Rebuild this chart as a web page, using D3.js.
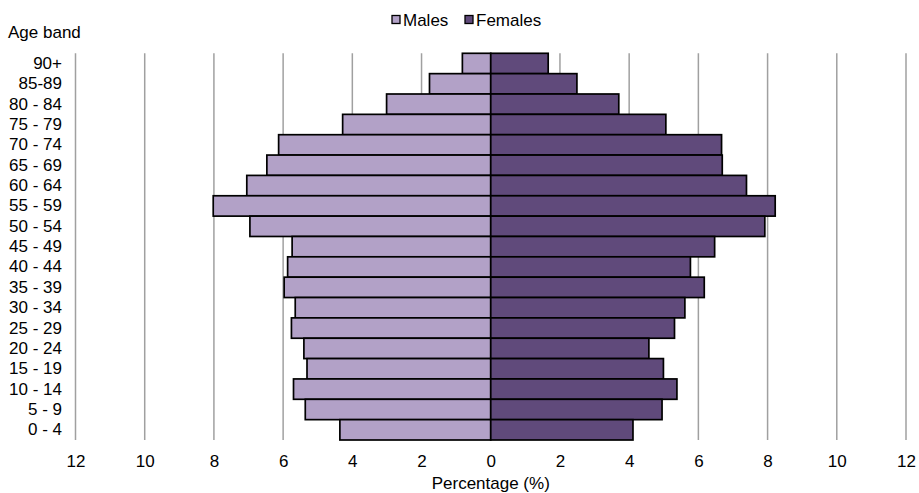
<!DOCTYPE html>
<html>
<head>
<meta charset="utf-8">
<script src="https://cdn.jsdelivr.net/npm/d3@7"></script>
<style>
  html, body { margin: 0; padding: 0; background: #fff; }
  svg { display: block; }
  text { font-family: "Liberation Sans", Arial, sans-serif; fill: #000; }
</style>
</head>
<body>
<svg id="chart" width="919" height="493"></svg>
<script>
const ageBands = ["90+", "85-89", "80 - 84", "75 - 79", "70 - 74", "65 - 69", "60 - 64", "55 - 59", "50 - 54", "45 - 49", "40 - 44", "35 - 39", "30 - 34", "25 - 29", "20 - 24", "15 - 19", "10 - 14", "5 - 9", "0 - 4"];
const males   = [0.82, 1.77, 3.01, 4.28, 6.13, 6.47, 7.05, 8.02, 6.96, 5.74, 5.87, 5.97, 5.65, 5.76, 5.40, 5.31, 5.70, 5.36, 4.36];
const females = [1.66, 2.49, 3.70, 5.06, 6.67, 6.69, 7.39, 8.22, 7.92, 6.47, 5.77, 6.17, 5.61, 5.31, 4.57, 4.99, 5.38, 4.95, 4.11];
const xTicks = [-12, -10, -8, -6, -4, -2, 0, 2, 4, 6, 8, 10, 12];
const seriesNames = ["Males", "Females"];
const seriesColors = ["#B2A1C7", "#604A7B"];

const svg = d3.select("#chart");
const x = d3.scaleLinear().domain([-12, 12]).range([75.5, 906]);
const y = d3.scaleBand().domain(ageBands).range([53.3, 440]).padding(0);
const fontSize = 17;

// gridlines
svg.append("g").selectAll("line").data(xTicks).join("line")
  .attr("x1", d => x(d)).attr("x2", d => x(d))
  .attr("y1", y.range()[0]).attr("y2", y.range()[1])
  .attr("stroke", "#a0a0a0").attr("stroke-width", 1.5);

// male bars
svg.append("g").selectAll("rect").data(ageBands).join("rect")
  .attr("x", (d, i) => x(-males[i]))
  .attr("y", d => y(d))
  .attr("width", (d, i) => x(0) - x(-males[i]))
  .attr("height", y.bandwidth())
  .attr("fill", seriesColors[0])
  .attr("stroke", "#000").attr("stroke-width", 1.7);

// female bars
svg.append("g").selectAll("rect").data(ageBands).join("rect")
  .attr("x", x(0))
  .attr("y", d => y(d))
  .attr("width", (d, i) => x(females[i]) - x(0))
  .attr("height", y.bandwidth())
  .attr("fill", seriesColors[1])
  .attr("stroke", "#000").attr("stroke-width", 1.7);

// x axis labels
const xAxis = d3.axisBottom(x).tickValues(xTicks).tickFormat(d => Math.abs(d)).tickSize(0).tickPadding(0);
const gx = svg.append("g").attr("transform", "translate(0,455)").call(xAxis);
gx.select(".domain").remove();
gx.selectAll("text").attr("font-size", fontSize).attr("font-family", "Liberation Sans, Arial, sans-serif").attr("fill", "#000");

// y axis labels
const yAxis = d3.axisLeft(y).tickSize(0).tickPadding(0);
const gy = svg.append("g").attr("transform", "translate(62,0)").call(yAxis);
gy.select(".domain").remove();
gy.selectAll("text").attr("font-size", fontSize).attr("font-family", "Liberation Sans, Arial, sans-serif").attr("fill", "#000");

// axis titles
svg.append("text").attr("x", 8).attr("y", 38).attr("font-size", fontSize).text("Age band");
svg.append("text").attr("x", x(0)).attr("y", 488.5).attr("text-anchor", "middle").attr("font-size", fontSize).text("Percentage (%)");

// legend
const legendItems = [{name: seriesNames[0], color: seriesColors[0], x: 392}, {name: seriesNames[1], color: seriesColors[1], x: 465}];
const lg = svg.append("g");
lg.selectAll("rect").data(legendItems).join("rect")
  .attr("x", d => d.x).attr("y", 15.5).attr("width", 8).attr("height", 8)
  .attr("fill", d => d.color).attr("stroke", "#000").attr("stroke-width", 1.3);
lg.selectAll("text").data(legendItems).join("text")
  .attr("x", d => d.x + 11).attr("y", 26).attr("font-size", fontSize)
  .text(d => d.name);
</script>
</body>
</html>
